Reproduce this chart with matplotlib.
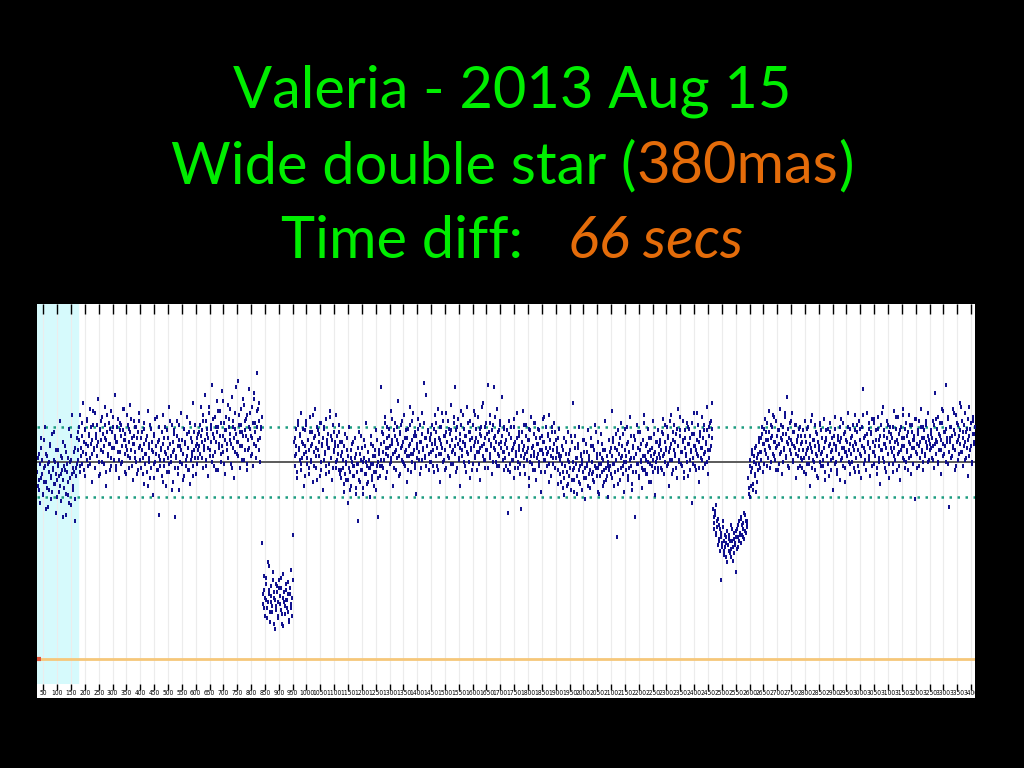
import numpy as np
import matplotlib
matplotlib.use('Agg')
import matplotlib.pyplot as plt
from matplotlib.patches import Rectangle

# Light curve values (flux x100).
# Two interleaved passes per segment (odd / even frames).
seg_a_1 = [95, 88, 104, 79, 112, 92, 101, 84, 97, 118, 90, 76, 103, 99, 86, 108,
           93, 81, 114, 96, 89, 100, 74, 106, 91, 98, 85, 121, 94, 80, 102, 110,
           87, 96, 73, 105, 99, 83, 117, 92, 78, 101, 124, 88, 95, 70, 107, 97]
seg_a_2 = [112, 101, 118, 95, 124, 107, 99, 130, 110, 93, 116, 104, 121, 98, 113, 127,
           102, 109, 90, 119, 106, 125, 97, 114, 108, 132, 100, 117, 94, 111, 123, 105,
           99, 128, 112, 88, 115, 103, 120, 109, 96, 126, 107, 118, 101, 113, 134, 98,
           110, 122, 92, 116, 105, 119, 100, 127, 111, 95, 114, 108, 124, 103, 117, 97,
           129, 106, 112, 91, 121, 109, 102, 118, 94, 115, 107, 125]
seg_a_3 = [108, 97, 115, 102, 89, 120, 104, 111, 95, 126, 100, 109, 92, 117, 106, 83,
           113, 99, 122, 104, 96, 110, 73, 118, 101, 107, 93, 124, 98, 112, 105, 88,
           116, 102, 128, 95, 109, 100, 119, 90, 106, 114, 72, 103, 121, 97, 111, 86,
           108, 125, 99, 104, 117, 93, 110, 101, 123, 96, 107, 115, 89, 112, 103, 130,
           98, 106, 119, 94, 109, 102, 114]
seg_a_4 = [115, 104, 128, 110, 97, 121, 108, 134, 101, 117, 112, 93, 125, 106, 119, 139,
           103, 114, 98, 123, 110, 131, 96, 118, 107, 126, 100, 136, 113, 105, 120, 94,
           116, 109, 129, 102, 122, 111, 99, 133, 107, 118, 92, 125, 114, 104, 141, 110,
           119, 97, 127, 108, 115, 132, 101, 121, 113, 96, 124, 106, 137, 117, 103, 128,
           112, 98, 135, 120, 108, 126, 145, 111, 130, 100, 118, 123]
seg_a_5 = [102, 91, 86, 99, 107, 94, 83, 90, 111, 98, 104, 87, 77, 95, 100, 109,
           92, 85, 97, 115, 101, 89, 94, 82, 99, 106, 93, 88, 103, 96, 72, 91,
           98, 108, 84, 95, 102, 90, 79, 100, 113, 94, 86, 97, 105, 81, 93, 99]
seg_a_6 = [106, 115, 111, 98, 103, 120, 113, 105, 96, 117, 109, 122, 101, 108, 114, 99,
           118, 104, 111, 126, 107, 97, 112, 119, 103, 110, 93, 116, 121, 106, 100, 114,
           108, 119, 95, 111, 124, 104, 109, 117, 102, 98, 115, 123, 107, 112, 96, 110,
           118, 105, 101, 120, 113, 99, 108, 116, 127, 104, 111, 94, 106, 119, 110, 102,
           115, 122, 98, 109, 113, 105, 118, 100, 112, 96, 121, 108]
seg_a_7 = [101, 112, 106, 94, 109, 117, 99, 104, 113, 88, 107, 102, 119, 97, 110, 105,
           92, 114, 100, 108, 123, 96, 103, 111, 98, 106, 115, 90, 109, 101, 118, 104,
           95, 107, 112, 99, 121, 103, 86, 110, 105, 116, 97, 102, 113, 108, 94, 119,
           100, 106, 111, 91, 104, 117, 109, 98, 103, 114, 107, 96, 120, 101, 110, 105,
           93, 115, 102, 108, 99, 112, 106]
seg_a_8 = [108, 119, 113, 102, 116, 124, 106, 111, 98, 121, 114, 107, 128, 103, 110, 117,
           100, 122, 112, 105, 118, 96, 115, 126, 109, 113, 104, 120, 108, 131, 99, 116,
           111, 123, 106, 102, 118, 114, 127, 109, 97, 121, 112, 105, 117, 138, 110, 103,
           124, 115, 108, 119, 101, 113, 129, 106, 116, 122, 99, 111, 118, 107, 125, 113,
           104, 120, 109, 132, 115, 102, 118, 127, 106, 121, 112, 117]

dip_1 = [59, 28, 35, 22, 41, 30, 26, 49, 33, 19, 37, 29, 24, 44, 31, 15, 38, 27, 34, 21,
         40, 32, 25, 36, 18, 43, 29, 23, 35, 30, 26, 39, 20, 33, 28, 45, 22, 63]
dip_1b = [33, 42, 26, 31, 38, 21, 29, 35, 47, 24, 32, 27, 40, 18, 34, 30, 25, 37, 22, 29,
          36, 28, 41, 23, 31, 17, 34, 27, 38, 30, 24, 33, 19, 36, 26, 31, 40]

seg_b_1 = [110, 98, 117, 104, 92, 121, 107, 113, 96, 125, 102, 109, 88, 116, 105, 119,
           99, 111, 94, 123, 108, 101, 115, 90, 112, 127, 103, 97, 118, 106, 114, 93,
           120, 100, 109, 86, 117, 104, 122, 98, 111, 107, 95, 126, 102, 113, 91, 119,
           105, 110, 97, 124, 101, 108, 115, 94]
seg_b_2 = [103, 92, 110, 97, 85, 114, 100, 91, 106, 79, 118, 95, 102, 88, 109, 98,
           93, 112, 84, 104, 99, 70, 115, 90, 101, 96, 107, 87, 111, 94, 100, 120,
           89, 105, 97, 82, 113, 99, 91, 108, 95, 103, 86, 116, 98, 72, 106, 93]
seg_b_3 = [138, 101, 115, 97, 110, 123, 104, 92, 118, 107, 113, 99, 126, 102, 109, 88,
           116, 105, 120, 96, 111, 131, 103, 114, 94, 119, 108, 100, 124, 98, 112, 106,
           90, 117, 103, 128, 109, 95, 121, 104, 113, 99, 115, 84, 107, 122, 101, 110,
           119, 97, 125, 106, 140, 112, 102, 134, 108, 116, 96, 111]
seg_b_4 = [112, 100, 119, 106, 95, 124, 109, 115, 98, 127, 104, 111, 90, 118, 107, 121,
           101, 113, 96, 125, 110, 103, 117, 93, 114, 129, 105, 99, 120, 138, 108, 116,
           97, 122, 102, 111, 88, 119, 106, 124, 100, 113, 109, 95, 128, 104, 115, 92,
           121, 107, 112, 99, 126, 103, 110, 117, 96, 123, 105, 114, 91, 118, 108, 130,
           101, 112, 97, 120, 106, 139, 115, 102, 124, 109, 94, 119, 138, 107, 113, 100,
           127, 104, 116, 98, 121, 110, 133, 105, 118, 96]
seg_b_5 = [109, 98, 116, 74, 104, 121, 95, 112, 101, 107, 118, 92, 110, 103, 125, 97,
           113, 106, 99, 76, 115, 126, 102, 108, 94, 119, 105, 111, 88, 117, 100, 123,
           107, 96, 114, 103, 120, 91, 109, 104, 116, 98, 112, 85, 106, 122, 101, 110,
           95, 118, 104, 113, 99, 124, 107, 93, 115, 102, 109, 120, 97, 111, 105, 89,
           117, 103]
seg_b_6 = [101, 90, 108, 95, 83, 112, 98, 104, 88, 115, 93, 100, 106, 86, 110, 130,
           97, 91, 113, 102, 84, 107, 96, 118, 89, 103, 99, 111, 92, 105, 81, 109,
           98, 116, 94, 101, 87, 112, 100, 95, 108, 90, 119, 97, 104, 85, 110, 99,
           93, 114, 102, 88, 106, 96, 121, 91, 103, 98, 82, 111]
seg_b_7 = [105, 94, 126, 99, 112, 88, 107, 101, 62, 116, 96, 109, 91, 120, 103, 98,
           114, 85, 106, 100, 118, 93, 110, 97, 123, 102, 89, 108, 95, 113, 72, 104,
           119, 99, 107, 92, 115, 101, 87, 111, 96, 124, 103, 94, 109, 100, 117, 90,
           106, 112, 98, 121, 95, 104, 83, 110, 102, 116, 97, 108]
seg_b_8 = [109, 97, 115, 103, 122, 94, 110, 106, 118, 99, 113, 88, 107, 124, 101, 111,
           96, 119, 104, 114, 92, 108, 127, 100, 116, 105, 98, 121, 110, 95, 112, 103,
           120, 93, 109, 117, 101, 106, 79, 114, 99, 125, 108, 96, 111, 104, 119, 90,
           113, 102, 123, 107, 97, 116, 105, 110, 128, 100, 94, 118, 106, 121, 112, 130]
seg_b_9 = [103, 112, 108, 95, 119, 106, 101, 114, 99, 110, 117, 104, 93, 108, 121, 102,
           111, 97, 106, 115, 100, 109, 124, 105, 98, 113, 107, 91, 116, 103, 110, 120,
           96, 108, 112, 101, 118, 105, 94, 109, 114, 99, 107, 123, 102, 111, 97, 106,
           115, 108, 100, 113, 104, 119, 96, 110]
seg_b_10 = [96, 105, 101, 89, 108, 94, 99, 112, 91, 103, 97, 86, 106, 100, 93, 110,
            98, 102, 87, 95, 107, 99, 91, 104, 113, 96, 100, 84, 102, 108, 94, 98,
            105, 90, 101, 97, 109, 93, 103, 99, 88, 106, 95, 111, 100, 92, 104, 98]
seg_b_11 = [109, 98, 114, 105, 101, 120, 107, 112, 95, 103, 117, 108, 100, 111, 122, 104,
            97, 113, 106, 118, 102, 109, 93, 115, 107, 101, 121, 110, 99, 105, 116, 103,
            112, 96, 108, 119, 104, 111, 100, 125, 106, 97, 113, 109, 102, 117, 105, 94,
            110, 114, 101, 107, 120, 103, 98, 112, 108, 115, 104, 100]
seg_b_12 = [105, 114, 109, 98, 117, 111, 103, 120, 107, 96, 112, 118, 104, 109, 125, 100,
            113, 106, 97, 115, 110, 121, 102, 108, 116, 99, 111, 106, 123, 104, 112, 95,
            118, 109, 101, 114, 107, 126, 103, 110, 117, 98, 108, 113, 105, 120, 100, 111,
            115, 106, 96, 119, 108, 102, 124, 112, 105, 110, 99, 117, 107, 113, 128, 103,
            109, 118, 101, 106, 114, 97, 111, 120, 104, 108, 116, 100, 112, 123, 106, 110,
            98, 115, 109, 103, 119, 107, 113, 101, 117, 105]
seg_b_13 = [102, 111, 107, 96, 114, 104, 99, 118, 106, 101, 109, 122, 97, 105, 112, 100,
            108, 115, 94, 103, 110, 106, 119, 98, 104, 113, 101, 107, 92, 111, 116, 103,
            99, 108, 120, 105, 96, 112, 102, 109, 117, 100, 106, 95, 113, 104, 110, 123,
            101, 107, 98, 114, 105, 90, 111, 103, 118, 106, 99, 109, 115, 102, 107, 96,
            112, 104]
seg_b_14 = [94, 103, 99, 87, 106, 92, 98, 110, 95, 101, 89, 104, 97, 113, 91, 100,
            96, 85, 107, 99, 93, 102, 109, 90, 98, 104, 86, 101, 95, 111, 97, 92,
            105, 99, 88, 103, 96, 108, 94, 100, 91, 106, 98, 115, 93, 102, 97, 84,
            104, 99, 109, 95, 101, 90, 106, 97, 93, 103, 100, 96]
seg_b_15 = [98, 107, 103, 92, 110, 99, 95, 114, 101, 106, 89, 104, 112, 97, 102, 108,
            94, 100, 117, 103, 96, 109, 91, 105, 101, 113, 98, 86, 107, 102, 111, 95,
            104, 99, 115, 93, 106, 100, 109, 97, 103, 120, 96, 101, 108, 94, 105, 112,
            99, 103, 90, 107, 101, 114, 97, 105, 100, 110, 95, 104]
seg_b_16 = [102, 111, 106, 96, 114, 104, 100, 119, 107, 98, 112, 105, 121, 101, 109, 94,
            115, 106, 103, 110, 97, 117, 108, 101, 113, 123, 99, 105, 111, 92, 107, 116,
            104, 100, 118, 109, 96, 112, 105, 120, 102, 108, 114, 98, 106, 125, 103, 110,
            97, 115, 107, 101, 112, 119, 104, 99, 109, 116, 106, 102, 113, 120, 108, 117]

dip_2 = [76, 69, 73, 64, 78, 67, 71, 60, 66, 40, 62, 57, 70, 55, 63, 59, 52, 65, 58, 61,
         54, 68, 56, 60, 50, 64, 58, 44, 62, 66, 57, 70, 63, 72, 59, 68, 66, 61, 73, 64, 70, 67]
dip_2b = [72, 66, 75, 63, 70, 58, 68, 61, 55, 64, 59, 67, 53, 60, 57, 62, 49, 58, 63, 55,
          60, 52, 66, 57, 61, 54, 59, 65, 56, 62, 68, 60, 64, 71, 63, 69, 62, 74, 65, 70, 68]

seg_c_1 = [92, 84, 101, 88, 97, 106, 86, 103, 94, 99, 108, 90, 104, 112, 97]
seg_c_2 = [112, 101, 118, 95, 109, 122, 104, 115, 98, 111, 126, 107, 119, 100, 113, 124,
           103, 110, 96, 121, 108, 116, 99, 127, 105, 112, 94, 118, 106, 123, 102, 114,
           133, 109, 97, 120, 111, 104, 125, 100, 115, 107, 92, 119, 110, 103, 117, 98, 113]
seg_c_3 = [109, 97, 116, 102, 121, 94, 110, 106, 118, 99, 113, 88, 107, 124, 101, 111,
           96, 119, 104, 114, 92, 108, 120, 100, 116, 105, 98, 122, 110, 95, 112, 103,
           117, 93, 109, 115, 101, 106, 86, 113, 99, 123, 108, 96, 111, 104, 118, 91,
           112, 102, 120, 107, 97, 115, 105, 110, 125, 100, 94, 117]
seg_c_4 = [112, 100, 119, 106, 95, 124, 109, 115, 98, 121, 104, 111, 92, 118, 137, 107,
           101, 113, 96, 125, 110, 103, 117, 93, 114, 122, 105, 99, 120, 108, 116, 97,
           123, 102, 111, 89, 119, 106, 128, 100, 113, 109, 95, 121, 104, 115, 92, 118,
           107, 112, 99, 126, 103, 110, 117, 96, 123, 105, 114, 91, 118, 108, 124, 101,
           112, 97, 120, 106, 115, 102, 124, 109, 94, 119, 111, 107, 113, 81, 122, 104,
           116, 98, 121, 110, 127, 105, 118, 96, 112, 103, 119, 108, 100, 125, 111, 106]
seg_c_5 = [114, 102, 121, 108, 97, 135, 111, 117, 100, 123, 106, 113, 94, 120, 109, 126,
           104, 115, 139, 110, 99, 122, 77, 112, 118, 103, 127, 107, 116, 96, 124, 110,
           101, 119, 113, 130, 105, 121, 98, 115, 108, 125, 102, 117, 93, 111, 128, 106,
           120, 100, 114, 123, 109, 118]
seg_c_6 = [87, 98, 82, 95, 104, 89, 100, 93, 107, 85, 102, 96, 110, 99, 105]
seg_c_7 = [105, 114, 109, 99, 117, 106, 111, 120, 102, 108, 115, 97, 112, 118, 104, 110,
           123, 101, 107, 113, 96, 116, 109, 104, 119, 111, 100, 114, 107, 125, 103, 110,
           117, 98, 112, 106, 121, 109, 101, 115, 108, 119, 104, 111, 97, 113, 106, 118, 102]
seg_c_8 = [101, 110, 106, 95, 113, 104, 99, 117, 107, 102, 109, 121, 97, 105, 111, 100,
           108, 115, 93, 103, 110, 106, 119, 98, 104, 112, 101, 107, 91, 111, 116, 103,
           99, 108, 120, 105, 96, 112, 102, 109, 117, 100, 106, 94, 113, 104, 110, 122,
           101, 107, 98, 114, 105, 90, 111, 103, 118, 106, 99, 109]
seg_c_9 = [104, 113, 108, 97, 116, 110, 102, 119, 106, 95, 111, 117, 103, 108, 124, 99,
           112, 105, 96, 114, 109, 120, 101, 107, 115, 98, 110, 105, 122, 103, 111, 94,
           117, 108, 100, 113, 106, 125, 102, 109, 116, 97, 107, 112, 104, 119, 99, 110,
           114, 105, 95, 118, 107, 101, 123, 111, 104, 109, 98, 116, 106, 112, 127, 102,
           108, 117, 100, 105, 113, 96, 110, 119, 103, 107, 115, 99, 111, 122, 105, 109,
           97, 114, 108, 102, 118, 106, 112, 100, 116, 104, 110, 121, 107, 113, 101, 109]
seg_c_10 = [107, 116, 112, 101, 119, 109, 104, 122, 110, 99, 114, 120, 106, 111, 127, 103,
            115, 108, 100, 117, 112, 123, 105, 110, 118, 102, 113, 108, 125, 106, 114, 98,
            120, 111, 104, 116, 109, 128, 105, 112, 119, 101, 110, 115, 107, 122, 103, 113,
            117, 108, 99, 121, 110, 114]

# (first frame, last frame, values)
segments = [
    (28, 838, seg_a_1 + seg_a_2 + seg_a_3 + seg_a_4),
    (30, 836, seg_a_5 + seg_a_6 + seg_a_7 + seg_a_8),
    (840, 952, dip_1),
    (842, 950, dip_1b),
    (955, 2466, seg_b_1 + seg_b_2 + seg_b_3 + seg_b_4 + seg_b_5 + seg_b_6 + seg_b_7 + seg_b_8),
    (957, 2464, seg_b_9 + seg_b_10 + seg_b_11 + seg_b_12 + seg_b_13 + seg_b_14 + seg_b_15
     + seg_b_16),
    (2468, 2592, dip_2),
    (2470, 2590, dip_2b),
    (2595, 3414, seg_c_1 + seg_c_2 + seg_c_3 + seg_c_4 + seg_c_5),
    (2597, 3412, seg_c_6 + seg_c_7 + seg_c_8 + seg_c_9 + seg_c_10),
]

mean_level = 1.0
band = 0.178
zero_level = 0.0
ignored_frames = (27, 174)
tick_frames = list(range(50, 3401, 50))

W, H = 1024, 768
fig = plt.figure(figsize=(W / 100, H / 100), dpi=100, facecolor='black')

# white panel behind the plot (includes the tick label strip)
fig.patches.append(Rectangle((37 / W, (H - 698) / H), 938 / W, (698 - 304) / H,
                             transform=fig.transFigure, facecolor='white',
                             edgecolor='none', zorder=-10))

ax = fig.add_axes([37 / W, (H - 684) / H, 938 / W, (684 - 304) / H])
ax.set_zorder(1)
ax.set_facecolor('white')
ax.set_xlim(27, 3414)
ax.set_ylim((659 - 684) / 197, (659 - 304) / 197)

ax.axvspan(*ignored_frames, color='#d6fafc', zorder=0)
for f in tick_frames:
    ax.axvline(f, color='#ececec', lw=0.8, zorder=1)

ax.axhline(zero_level, color='#f6c77a', lw=2, zorder=2)
ax.plot([27, 42], [zero_level, zero_level], color='#e0553a', lw=3, zorder=3,
        solid_capstyle='butt')
ax.axhline(mean_level, color='#5a5a5a', lw=1.4, zorder=2)
ax.axhline(mean_level + band, color='#1c9c80', lw=1.8, ls=(0, (1, 2.2)), zorder=2)
ax.axhline(mean_level - band, color='#1c9c80', lw=1.8, ls=(0, (1, 2.2)), zorder=2)

for start, end, vals in segments:
    x = np.linspace(start, end, len(vals))
    y = np.array(vals) / 100.0
    ax.plot(x, y, ls='none', marker='|', ms=3.0, mew=1.4, color='#0c0c8c', zorder=4)

for s in ax.spines.values():
    s.set_visible(False)
ax.set_yticks([])
ax.set_xticks(tick_frames)
ax.set_xticklabels([str(f) for f in tick_frames], fontfamily='DejaVu Sans',
                   fontstretch='condensed', fontsize=4.8)
ax.tick_params(axis='x', which='both', direction='out', length=4, width=1,
               pad=0.5, top=True, labeltop=False, labelcolor='black')
for tick, f in zip(ax.xaxis.get_major_ticks(), tick_frames):
    c = '#222222' if (f % 100 == 0 and f > 150) else '#9a9a9a'
    tick.tick1line.set_color(c)
    tick.tick2line.set_color(c)
    tick.tick2line.set_marker(3)  # tick pointing down from the top edge
    tick.tick2line.set_markersize(7)

# title, built from coloured pieces
green = '#00ee00'
orange = '#e46c0a'
title_font = 'Lato'
lines = [
    (108, [("Valeria - 2013 Aug 15", green, 'normal')]),
    (183, [("Wide double star (", green, 'normal'), ("380mas", orange, 'normal'),
           (")", green, 'normal')]),
    (258, [("Time diff:   ", green, 'normal'), ("66 secs", orange, 'italic')]),
]

renderer = fig.canvas.get_renderer()


def piece_widths(pieces, size):
    widths = []
    for txt, col, sty in pieces:
        t = fig.text(0, 0, txt, fontsize=size, family=title_font, style=sty)
        widths.append(t.get_window_extent(renderer).width)
        t.remove()
    return widths


size = 40 * 682 / sum(piece_widths(lines[1][1], 40))

for y_px, pieces in lines:
    widths = piece_widths(pieces, size)
    x_px = 512 - sum(widths) / 2
    for (txt, col, sty), w in zip(pieces, widths):
        fig.text(x_px / W, 1 - y_px / H, txt, fontsize=size, family=title_font,
                 style=sty, color=col, va='baseline', ha='left')
        x_px += w

fig.savefig('out.png', dpi=100, facecolor='black')
